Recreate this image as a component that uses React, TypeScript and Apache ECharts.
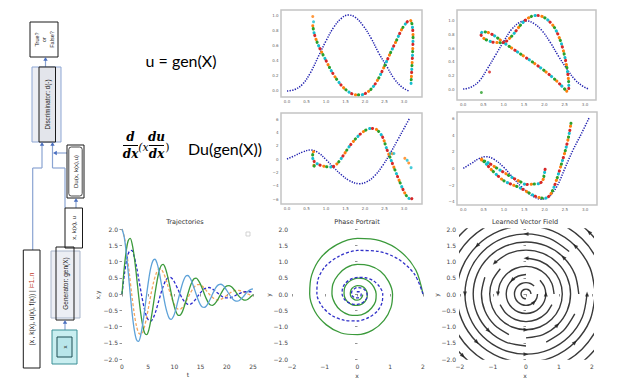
import React, { useEffect, useRef } from "react";
import * as echarts from "echarts";

// ---------- data ----------
// Top-left scatter panel (u vs x)
const A_BLUE = [[0,0],[0.2,0.02],[0.4,0.09],[0.6,0.24],[0.8,0.45],[1.0,0.66],[1.2,0.84],[1.4,0.96],[1.57,1.0],[1.75,0.97],[1.95,0.86],[2.15,0.7],[2.35,0.5],[2.55,0.33],[2.75,0.16],[2.95,0.05],[3.12,0.0]];
const A_PATH = [[0.66,0.86],[0.7,0.75],[0.78,0.63],[0.88,0.52],[1.0,0.4],[1.12,0.28],[1.25,0.17],[1.4,0.07],[1.55,0.0],[1.75,-0.05],[1.9,-0.05],[2.05,-0.02],[2.2,0.05],[2.35,0.17],[2.5,0.33],[2.65,0.5],[2.8,0.66],[2.95,0.82],[3.08,0.91],[3.16,0.93],[3.21,0.86],[3.23,0.7],[3.22,0.5],[3.2,0.3],[3.18,0.1]];
const A_EXTRA = [[0.66,0.98],[0.68,0.91]];
// Top-right scatter panel
const B_BLUE = [[0,0],[0.2,0.03],[0.4,0.12],[0.6,0.3],[0.8,0.5],[1.0,0.7],[1.2,0.88],[1.4,0.98],[1.55,1.0],[1.75,0.96],[1.95,0.85],[2.15,0.68],[2.35,0.48],[2.55,0.3],[2.75,0.14],[2.95,0.04],[3.1,0.0]];
const B_PATH = [[2.55,-0.03],[2.3,0.12],[2.0,0.27],[1.7,0.4],[1.4,0.52],[1.15,0.62],[0.98,0.69],[0.8,0.77],[0.62,0.83],[0.48,0.84],[0.44,0.8],[0.52,0.74],[0.72,0.69],[0.98,0.68],[1.2,0.78],[1.4,0.93],[1.55,1.02],[1.7,1.07],[1.85,1.08],[2.05,1.03],[2.25,0.9],[2.4,0.7],[2.5,0.48],[2.57,0.25],[2.6,0.05],[2.6,-0.04]];
const B_EXTRA = [[0.45,-0.05],[0.65,0.25]];
// Middle-left scatter panel (operator of u)
const C_BLUE = [[0,0],[0.2,0.5],[0.4,1.05],[0.6,1.35],[0.8,0.95],[1.0,-0.1],[1.2,-1.3],[1.4,-2.4],[1.6,-3.25],[1.85,-3.7],[2.05,-3.4],[2.25,-2.5],[2.45,-1.0],[2.65,0.9],[2.85,3.0],[3.0,4.6],[3.15,6.2]];
const C_PATH = [[0.68,1.1],[0.65,0.3],[0.7,-0.5],[0.68,-1.2],[0.76,-0.7],[0.86,-0.95],[1.0,-1.15],[1.15,-1.2],[1.3,-0.6],[1.45,0.6],[1.6,1.9],[1.8,3.3],[1.98,4.2],[2.15,4.6],[2.3,4.4],[2.45,3.3],[2.55,1.6],[2.65,0.1],[2.75,-1.4],[2.88,-3.3],[3.0,-4.9],[3.1,-5.8],[3.18,-6.0],[3.25,-5.6]];
const C_EXTRA = [[2.65,0.85],[2.7,0.8],[2.74,0.82],[3.02,0.1],[3.08,-0.2],[3.12,-0.6],[3.18,-1.3]];
// Middle-right scatter panel
const D_BLUE = [[0,0],[0.2,0.6],[0.4,1.2],[0.55,1.4],[0.75,1.1],[1.0,0.1],[1.2,-1.0],[1.45,-2.3],[1.7,-3.3],[1.92,-3.7],[2.1,-3.4],[2.3,-2.2],[2.5,0.0],[2.7,2.2],[2.9,4.1],[3.1,6.1]];
const D_PATH = [[0.45,1.1],[0.55,0.6],[0.7,-0.2],[0.85,-0.9],[1.0,-1.5],[1.2,-1.95],[1.4,-2.35],[1.6,-2.9],[1.8,-3.4],[2.0,-3.6],[2.12,-3.3],[2.22,-2.4],[2.32,-1.0],[2.42,0.6],[2.52,2.3],[2.6,4.0],[2.65,5.4]];
const D_PATH2 = [[0.45,1.0],[0.6,0.7],[0.8,0.1],[1.0,-0.5],[1.2,-1.1],[1.4,-1.6],[1.55,-1.95],[1.7,-1.9],[1.85,-1.85],[1.95,-1.5],[2.0,-0.5],[2.02,0.1]];

const PANEL_XTICKS = [0, 0.5, 1, 1.5, 2, 2.5, 3];
const UNIT_YTICKS = [0, 0.2, 0.4, 0.6, 0.8, 1.0];
const C_YTICKS = [-6, -4, -2, 0, 2, 4, 6];
const D_YTICKS = [-4, -2, 0, 2, 4, 6];

// Trajectories: true system (light blue x, green y) sampled at T_TRUE
const T_TRUE = [0,0.39,0.79,1.18,1.57,1.96,2.36,2.75,3.14,3.53,3.93,4.32,4.71,5.11,5.5,5.89,6.28,6.68,7.07,7.46,7.85,8.25,8.64,9.03,9.42,9.82,10.21,10.6,11.0,11.39,11.78,12.17,12.57,12.96,13.35,13.74,14.14,14.53,14.92,15.32,15.71,16.1,16.49,16.89,17.28,17.67,18.06,18.46,18.85,19.24,19.63,20.03,20.42,20.81,21.21,21.6,21.99,22.38,22.78,23.17,23.56,23.95,24.35,24.74,25.0];
const X_TRUE = [2.0,1.78,1.31,0.68,0,-0.63,-1.12,-1.4,-1.46,-1.3,-0.95,-0.5,0,0.46,0.81,1.02,1.07,0.95,0.7,0.36,0,-0.34,-0.59,-0.75,-0.78,-0.69,-0.51,-0.26,0,0.24,0.43,0.55,0.57,0.5,0.37,0.19,0,-0.18,-0.32,-0.4,-0.41,-0.37,-0.27,-0.14,0,0.13,0.23,0.29,0.3,0.27,0.2,0.1,0,-0.09,-0.17,-0.21,-0.22,-0.2,-0.14,-0.08,0,0.07,0.12,0.15,0.16];
const Y_TRUE = [0,0.74,1.31,1.64,1.71,1.52,1.12,0.58,0,-0.54,-0.95,-1.2,-1.25,-1.11,-0.81,-0.42,0,0.39,0.7,0.87,0.91,0.81,0.59,0.31,0,-0.29,-0.51,-0.64,-0.66,-0.59,-0.43,-0.23,0,0.21,0.37,0.47,0.49,0.43,0.32,0.17,0,-0.15,-0.27,-0.34,-0.35,-0.31,-0.23,-0.12,0,0.11,0.2,0.25,0.26,0.23,0.17,0.09,0,-0.08,-0.14,-0.18,-0.19,-0.17,-0.12,-0.06,-0.02];
// Learned system (orange dashed x, blue dashed y) sampled at T_PRED
const T_PRED = [0,0.46,0.92,1.39,1.85,2.31,2.77,3.23,3.7,4.16,4.62,5.08,5.54,6.01,6.47,6.93,7.39,7.85,8.32,8.78,9.24,9.7,10.16,10.63,11.09,11.55,12.01,12.47,12.94,13.4,13.86,14.32,14.78,15.25,15.71,16.17,16.63,17.09,17.56,18.02,18.48,18.94,19.4,19.87,20.33,20.79,21.25,21.71,22.18,22.64,23.1,23.56,24.02,24.49,24.95];
const X_PRED = [2.0,1.74,1.25,0.64,0,-0.57,-0.99,-1.21,-1.24,-1.08,-0.78,-0.4,0,0.35,0.61,0.75,0.77,0.67,0.48,0.24,0,-0.22,-0.38,-0.46,-0.47,-0.41,-0.3,-0.15,0,0.13,0.23,0.29,0.29,0.25,0.18,0.09,0,-0.08,-0.14,-0.18,-0.18,-0.16,-0.11,-0.06,0,0.05,0.09,0.11,0.11,0.1,0.07,0.04,0,-0.03,-0.06];
const Y_PRED = [0,0.61,1.07,1.31,1.34,1.16,0.84,0.43,0,-0.38,-0.66,-0.81,-0.83,-0.72,-0.52,-0.26,0,0.23,0.41,0.5,0.51,0.45,0.32,0.16,0,-0.15,-0.25,-0.31,-0.32,-0.28,-0.2,-0.1,0,0.09,0.16,0.19,0.2,0.17,0.12,0.06,0,-0.06,-0.1,-0.12,-0.12,-0.11,-0.08,-0.04,0,0.03,0.06,0.07,0.07,0.07,0.05];

// Learned vector field: streamlines and arrow heads [x, y, direction in degrees]
const STREAMS = [
  [[0.15,0],[0.139,0.057],[0.106,0.106],[0.057,0.139],[0,0.15],[-0.057,0.139],[-0.106,0.106],[-0.139,0.057],[-0.15,0],[-0.139,-0.057],[-0.106,-0.106],[-0.057,-0.139],[0,-0.15]],
  [[0.247,0.247],[0.134,0.323],[0,0.35],[-0.134,0.323],[-0.247,0.247],[-0.323,0.134],[-0.35,0],[-0.323,-0.134],[-0.247,-0.247],[-0.134,-0.323],[0,-0.35],[0.134,-0.323],[0.247,-0.247],[0.323,-0.134],[0.35,0]],
  [[0,0.6],[-0.23,0.554],[-0.424,0.424],[-0.554,0.23],[-0.6,0],[-0.554,-0.23],[-0.424,-0.424],[-0.23,-0.554],[0,-0.6],[0.23,-0.554],[0.424,-0.424],[0.554,-0.23],[0.6,0],[0.554,0.23],[0.424,0.424]],
  [[0.85,0],[0.785,0.325],[0.601,0.601],[0.325,0.785],[0,0.85],[-0.325,0.785],[-0.601,0.601],[-0.785,0.325],[-0.85,0]],
  [[-0.785,-0.325],[-0.601,-0.601],[-0.325,-0.785],[0,-0.85],[0.325,-0.785],[0.601,-0.601],[0.785,-0.325]],
  [[-0.778,0.778],[-1.016,0.421],[-1.1,0],[-1.016,-0.421],[-0.778,-0.778],[-0.421,-1.016],[0,-1.1],[0.421,-1.016],[0.778,-0.778],[1.016,-0.421],[1.1,0],[1.016,0.421],[0.778,0.778],[0.421,1.016],[0,1.1]],
  [[0,-1.35],[0.517,-1.247],[0.954,-0.954],[1.247,-0.517],[1.35,0],[1.247,0.517],[0.954,0.954],[0.517,1.247],[0,1.35],[-0.517,1.247],[-0.954,0.954]],
  [[-1.247,0.517],[-1.35,0],[-1.247,-0.517],[-0.954,-0.954],[-0.517,-1.247]],
  [[1.6,0],[1.478,0.612],[1.131,1.131],[0.612,1.478],[0,1.6],[-0.612,1.478],[-1.131,1.131],[-1.478,0.612],[-1.6,0],[-1.478,-0.612],[-1.131,-1.131],[-0.612,-1.478],[0,-1.6]],
  [[0.612,-1.478],[1.131,-1.131],[1.478,-0.612]],
  [[1.308,1.308],[0.708,1.709],[0,1.85],[-0.708,1.709],[-1.308,1.308],[-1.709,0.708],[-1.85,0],[-1.709,-0.708],[-1.308,-1.308],[-0.708,-1.709],[0,-1.85],[0.708,-1.709],[1.308,-1.308],[1.709,-0.708],[1.85,0]],
  [[2.1,0],[1.94,0.804],[1.485,1.485],[0.804,1.94],[0,2.1],[-0.804,1.94],[-1.485,1.485],[-1.94,0.804],[-2.1,0],[-1.94,-0.804],[-1.485,-1.485],[-0.804,-1.94],[0,-2.1],[0.804,-1.94],[1.485,-1.485],[1.94,-0.804],[2.1,0]],
  [[2.4,0],[2.217,0.918],[1.697,1.697],[0.918,2.217],[0,2.4],[-0.918,2.217],[-1.697,1.697],[-2.217,0.918],[-2.4,0],[-2.217,-0.918],[-1.697,-1.697],[-0.918,-2.217],[0,-2.4],[0.918,-2.217],[1.697,-1.697],[2.217,-0.918],[2.4,0]],
  [[2.7,0],[2.494,1.033],[1.909,1.909],[1.033,2.494],[0,2.7],[-1.033,2.494],[-1.909,1.909],[-2.494,1.033],[-2.7,0],[-2.494,-1.033],[-1.909,-1.909],[-1.033,-2.494],[0,-2.7],[1.033,-2.494],[1.909,-1.909],[2.494,-1.033],[2.7,0]],
];
const VF_ARROWS = [
  [0,1.85,90],[-1.85,0,180],[0,-1.85,270],[1.85,0,0],[1.131,1.131,45],[-1.131,-1.131,225],
  [-0.954,0.954,135],[0.954,-0.954,315],[0,1.1,90],[0,-1.1,270],[-0.85,0,180],[0.6,0,0],
  [-0.424,0.424,135],[1.485,1.485,45],[-1.485,-1.485,225],[-1.485,1.485,135],[1.485,-1.485,315],
  [0.247,-0.247,315],[1.909,1.909,45],[-1.909,-1.909,225],
];

// ---------- styling helpers ----------
const DOTS = ["#ff7f0e", "#2ca02c", "#17becf", "#d62728"];
const MINUS = "\u2212";
const fmt = (v: number, d: number) => (v < 0 ? MINUS : "") + Math.abs(v).toFixed(d);
const zip = (a: number[], b: number[]) => a.map((v, i) => [v, b[i]]);
const PF = "DejaVu Sans";
const DF = "Liberation Sans";

function buildOption() {
  const grids = [
    { left: 281, top: 10, width: 141, height: 87 },
    { left: 457, top: 10, width: 139, height: 90 },
    { left: 281, top: 113, width: 141, height: 91 },
    { left: 457, top: 112, width: 140, height: 93 },
    { left: 122, top: 229, width: 131, height: 130 },
    { left: 292, top: 229, width: 131, height: 130 },
    { left: 460, top: 229, width: 132, height: 130 },
  ].map((g, i) => ({
    ...g,
    containLabel: false,
    outerBoundsMode: "none",
    show: i < 4,
    borderColor: "#c4c4c4",
    borderWidth: 1.5,
    backgroundColor: "#fff",
  }));

  const panelAxis = (g: number, min: number, max: number, ticks: number[], dec: number) => ({
    gridIndex: g, type: "value", min, max,
    splitLine: { show: false }, axisLine: { show: false }, axisTick: { show: false },
    axisLabel: { customValues: ticks, formatter: (v: number) => fmt(v, dec), fontSize: 4, color: "#666", margin: 2.5, fontFamily: PF },
  });
  const plotAxis = (g: number, min: number, max: number, interval: number, dec: number) => ({
    gridIndex: g, type: "value", min, max, interval,
    splitLine: { show: false }, axisLine: { show: false },
    axisTick: { show: true, length: 2.5, lineStyle: { color: "#777", width: 0.8 } },
    axisLabel: { fontSize: 6, color: "#444", margin: 4, fontFamily: PF, formatter: (v: number) => fmt(v, dec), showMinLabel: true, showMaxLabel: true },
  });

  const xAxis = [
    panelAxis(0, -0.154, 3.46, PANEL_XTICKS, 1),
    panelAxis(1, -0.15, 3.27, PANEL_XTICKS, 1),
    panelAxis(2, -0.154, 3.46, PANEL_XTICKS, 1),
    panelAxis(3, -0.155, 3.29, PANEL_XTICKS, 1),
    plotAxis(4, 0, 25, 5, 0),
    plotAxis(5, -2, 2, 1, 0),
    plotAxis(6, -2, 2, 1, 0),
  ];
  const yAxis = [
    panelAxis(0, -0.079, 1.066, UNIT_YTICKS, 1),
    panelAxis(1, -0.16, 1.16, UNIT_YTICKS, 1),
    panelAxis(2, -6.75, 6.9, C_YTICKS, 0),
    panelAxis(3, -4.4, 6.76, D_YTICKS, 0),
    plotAxis(4, -2, 2, 0.5, 1),
    plotAxis(5, -2, 2, 0.5, 1),
    plotAxis(6, -2, 2, 0.5, 1),
  ];

  const series: any[] = [];
  const bluePath = (g: number, data: number[][]) =>
    series.push({ type: "line", xAxisIndex: g, yAxisIndex: g, data, smooth: 0.4, showSymbol: false, silent: true, z: 2,
      lineStyle: { color: "#2323b0", width: 1.5, type: [1.3, 1.3] } });
  const colorPath = (g: number, data: number[][]) =>
    DOTS.forEach((c, i) =>
      series.push({ type: "line", xAxisIndex: g, yAxisIndex: g, data, smooth: 0.3, showSymbol: false, silent: true, z: 3,
        lineStyle: { color: c, width: 3, type: [0.3, 13.7], dashOffset: -i * 3.5, cap: "round" } }));
  const extras = (g: number, data: number[][]) =>
    series.push({ type: "scatter", xAxisIndex: g, yAxisIndex: g, symbolSize: 3, silent: true, z: 4,
      data: data.map((p, i) => ({ value: p, itemStyle: { color: DOTS[(i * 2 + g) % DOTS.length] } })) });

  bluePath(0, A_BLUE); colorPath(0, A_PATH); extras(0, A_EXTRA);
  bluePath(1, B_BLUE); colorPath(1, B_PATH); extras(1, B_EXTRA);
  bluePath(2, C_BLUE); colorPath(2, C_PATH); extras(2, C_EXTRA);
  bluePath(3, D_BLUE); colorPath(3, D_PATH); colorPath(3, D_PATH2);

  const curve = (g: number, data: number[][], color: string, dashed: boolean, w = 1.3) =>
    series.push({ type: "line", xAxisIndex: g, yAxisIndex: g, data, smooth: 0.3, showSymbol: false, silent: true,
      lineStyle: { color, width: w, type: dashed ? [3, 2] : "solid" } });

  curve(4, zip(T_PRED, X_PRED), "#f4a65e", true);
  curve(4, zip(T_PRED, Y_PRED), "#2b2bcf", true);
  curve(4, zip(T_TRUE, Y_TRUE), "#3b9a3b", false);
  curve(4, zip(T_TRUE, X_TRUE), "#5ea2d8", false);

  curve(5, zip(X_TRUE, Y_TRUE), "#3b9a3b", false);
  curve(5, zip(X_PRED, Y_PRED), "#3030c8", true);

  STREAMS.forEach((s) =>
    series.push({ type: "line", xAxisIndex: 6, yAxisIndex: 6, data: s, smooth: 0.3, showSymbol: false, silent: true, clip: true,
      lineStyle: { color: "#3a3a3a", width: 1.4 } }));
  series.push({ type: "scatter", xAxisIndex: 6, yAxisIndex: 6, silent: true, z: 5, symbol: "triangle", symbolSize: [4, 5],
    symbolRotate: (v: number[]) => v[2], itemStyle: { color: "#1e1e1e" },
    data: VF_ARROWS.map((a) => a) });

  // ---------- left diagram and text (graphic) ----------
  const LINE = "#8aa4d2";
  const ARR = "#4a6fc0";
  const g: any[] = [];
  const rect = (x: number, y: number, w: number, h: number, style: any, r = 0) =>
    g.push({ type: "rect", shape: { x, y, width: w, height: h, r }, style });
  const line = (x1: number, y1: number, x2: number, y2: number, stroke = LINE, lw = 1.2) =>
    g.push({ type: "line", shape: { x1, y1, x2, y2 }, style: { stroke, lineWidth: lw } });
  const arrowUp = (x: number, yFrom: number, yTip: number) => {
    line(x, yFrom, x, yTip + 3);
    g.push({ type: "polygon", shape: { points: [[x - 2.2, yTip + 3.8], [x + 2.2, yTip + 3.8], [x, yTip]] }, style: { fill: ARR } });
  };
  const arrowLeft = (xFrom: number, xTip: number, y: number) => {
    line(xFrom, y, xTip + 3, y);
    g.push({ type: "polygon", shape: { points: [[xTip + 3.8, y - 2.2], [xTip + 3.8, y + 2.2], [xTip, y]] }, style: { fill: ARR } });
  };
  const vtext = (x: number, y: number, text: string, size = 6, extra: any = {}) =>
    g.push({ type: "text", x, y, rotation: Math.PI / 2, z: 10,
      style: { text, fontSize: size, fontFamily: DF, fill: "#222", align: "center", verticalAlign: "middle", ...extra } });

  const box = { fill: "#fff", stroke: "#1a1a1a", lineWidth: 1 };
  // True/False
  rect(30, 22, 28, 35, box);
  vtext(44, 39.5, "True?\nor\nFalse?", 5.5, { lineHeight: 7.5 });
  arrowUp(45.5, 67, 57);
  // Discriminator
  rect(32, 67, 29, 75, { fill: "#eceef4", stroke: "#8da6d4", lineWidth: 1 });
  rect(39, 67, 16.5, 75, { fill: "#e3e5eb", stroke: "#1a1a1a", lineWidth: 1 });
  vtext(47.25, 104.5, "Discriminator: d(-)", 6.3);
  // connections
  line(32.7, 250, 32.7, 168); line(32.7, 168, 42, 168); arrowUp(42, 168, 142);
  line(65, 208, 65, 168); line(65, 168, 52.5, 168); arrowUp(52.5, 168, 142);
  arrowLeft(67, 53, 153);
  // Du box
  rect(67, 145, 17, 53, box);
  rect(68.8, 147, 13.4, 49, { fill: "none", stroke: "#1a1a1a", lineWidth: 0.8 }, 2.5);
  vtext(75.5, 171.5, "Du(x, k(x),u)", 6);
  arrowUp(76, 208, 198);
  // x, k(x), u
  rect(65, 208, 17.5, 40, box);
  vtext(73.75, 228, "x, k(x), u", 6.2);
  // data box
  rect(23.3, 250, 16.7, 118, box);
  g.push({ type: "text", x: 31.6, y: 309, rotation: Math.PI / 2, z: 10,
    style: { text: "{a|(x , k(x), u(x), f(x)) | }{b|i=1..n}", fontSize: 6.5, fontFamily: DF, fill: "#222", align: "center", verticalAlign: "middle",
      rich: { a: { fontSize: 6.5, fontFamily: DF, fill: "#222" }, b: { fontSize: 6.5, fontFamily: DF, fill: "#c0392b" } } } });
  // Generator
  rect(51, 251, 29, 67, { fill: "#eceef4", stroke: "#a9b6cc", lineWidth: 1 });
  rect(56, 247, 18, 73, { fill: "none", stroke: "#1a1a1a", lineWidth: 1 });
  vtext(65, 283.5, "Generator: gen(X)", 6.5);
  arrowUp(65, 330, 320);
  // x input
  rect(52, 330, 25, 34, { fill: "#c9eef0", stroke: "#3b8f96", lineWidth: 1 });
  rect(57, 337, 15, 20, { fill: "#b9e6ea", stroke: "#1e4f55", lineWidth: 1 });
  vtext(64.5, 347, "x", 6);

  // equations
  const t = (x: number, y: number, text: string, style: any) =>
    g.push({ type: "text", x, y, z: 10, style: { text, fill: "#000", align: "center", verticalAlign: "middle", ...style } });
  const SANS = { fontFamily: "Lato", fontSize: 16 };
  const FR = { fontFamily: "DejaVu Serif", fontSize: 12, fontStyle: "italic", fontWeight: "bold" };
  t(181, 60, "u = gen(X)", SANS);
  t(130.5, 137, "d", FR);
  line(123, 145.5, 138, 145.5, "#000", 1);
  t(130.5, 153.5, "dx", FR);
  t(143.5, 147, "(x", { fontFamily: "DejaVu Serif", fontSize: 11, fontStyle: "italic" });
  t(156.5, 137, "du", FR);
  line(149, 145.5, 164, 145.5, "#000", 1);
  t(156.5, 153.5, "dx", FR);
  t(167.5, 147, ")", { fontFamily: "DejaVu Serif", fontSize: 11 });
  g.push({ type: "text", x: 188, y: 148, z: 10, style: { text: "Du(gen(X))", fill: "#000", align: "left", verticalAlign: "middle", ...SANS } });

  // titles and axis names of the lower plots
  const lbl = (x: number, y: number, text: string, size: number, rot = 0) =>
    g.push({ type: "text", x, y, rotation: rot, z: 10, style: { text, fontSize: size, fontFamily: PF, fill: "#333", align: "center", verticalAlign: "middle" } });
  lbl(185, 222, "Trajectories", 6.5);
  lbl(357, 222, "Phase Portrait", 6.5);
  lbl(525, 222, "Learned Vector Field", 6.5);
  lbl(188, 374, "t", 6);
  lbl(357, 375, "x", 6);
  lbl(525, 375, "x", 6);
  lbl(97, 295, "x,y", 6, Math.PI / 2);
  lbl(268, 295, "y", 6, Math.PI / 2);
  lbl(436, 295, "y", 6, Math.PI / 2);
  rect(246, 232, 4, 4, { fill: "#fff", stroke: "#c8c8c8", lineWidth: 0.8 });

  return {
    animation: false,
    backgroundColor: "#fff",
    grid: grids,
    xAxis,
    yAxis,
    series,
    graphic: { elements: g },
  };
}

export default function App() {
  const ref = useRef<HTMLDivElement>(null);
  useEffect(() => {
    if (!ref.current) return;
    const chart = echarts.init(ref.current, undefined, { renderer: "svg" });
    chart.setOption(buildOption() as any);
    return () => chart.dispose();
  }, []);
  return <div ref={ref} style={{ position: "absolute", left: 0, top: 0, width: 624, height: 385, background: "#fff" }} />;
}
